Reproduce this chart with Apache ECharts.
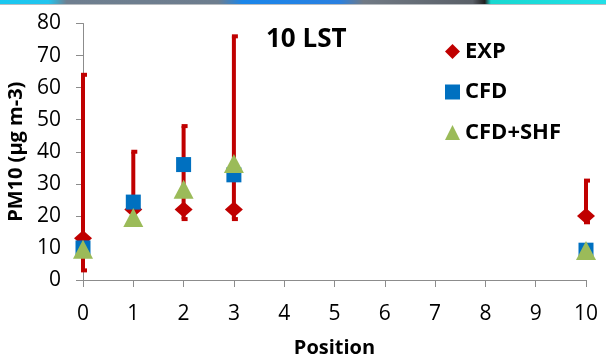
<!DOCTYPE html>
<html>
<head>
<meta charset="utf-8">
<script src="https://cdn.jsdelivr.net/npm/echarts@6/dist/echarts.min.js"></script>
<style>
  html, body { margin: 0; padding: 0; background: #fff; }
  #chart { width: 606px; height: 361px; }
</style>
</head>
<body>
<div id="chart"></div>
<script>
// Measurement positions along the street
const positions = [0, 1, 2, 3, 10];
// PM10 concentrations (µg m-3)
const expValues = [13, 22, 22, 22, 20];
const expLow = [3, 18, 19, 19, 18];
const expHigh = [64, 40, 48, 76, 31];
const cfdValues = [10, 24.3, 36, 32.8, 9.3];
const cfdShfValues = [9.6, 19.5, 28.3, 36.3, 9.2];
// Texts
const titleText = '10 LST';
const yName = 'PM10 (µg m-3)';
const xName = 'Position';

const FONT = '"Open Sans", "Liberation Sans", sans-serif';
const RED = '#C00000', BLUE = '#0070C0', GREEN = '#9BBB59';

const pair = (xs, ys) => xs.map((x, i) => [x, ys[i]]);
const errData = positions.map((x, i) => [x, expLow[i], expHigh[i]]);

const chart = echarts.init(document.getElementById('chart'), null, { renderer: 'canvas' });

chart.setOption({
  animation: false,
  backgroundColor: '#ffffff',
  title: {
    text: titleText,
    left: 261, top: 22,
    textStyle: { fontFamily: FONT, fontSize: 26, fontWeight: 'bold', color: '#000' }
  },
  legend: {
    orient: 'vertical',
    left: 440, top: 35,
    itemWidth: 15, itemHeight: 15, itemGap: 17.5,
    textStyle: { fontFamily: FONT, fontSize: 22, fontWeight: 'bold', color: '#000', lineHeight: 23, padding: [0, 0, 0, 0] },
    data: [
      { name: 'EXP', icon: 'diamond' },
      { name: 'CFD', icon: 'rect' },
      { name: 'CFD+SHF', icon: 'triangle' }
    ]
  },
  graphic: [{
    type: 'rect', silent: true, z: 100,
    shape: { x: 0, y: 0, width: 606, height: 4 },
    style: {
      fill: new echarts.graphic.LinearGradient(0, 0, 1, 0, [
        { offset: 0.0, color: '#19c8f0' },
        { offset: 0.08, color: '#22c4ee' },
        { offset: 0.11, color: '#6f7f90' },
        { offset: 0.36, color: '#6d7d8e' },
        { offset: 0.40, color: '#1a86ea' },
        { offset: 0.56, color: '#2a80e0' },
        { offset: 0.60, color: '#717a85' },
        { offset: 0.78, color: '#5a6068' },
        { offset: 0.80, color: '#202020' },
        { offset: 0.81, color: '#18d8d0' },
        { offset: 1.0, color: '#22e0e8' }
      ])
    }
  }, {
    type: 'rect', silent: true, z: 100,
    shape: { x: 0, y: 4, width: 606, height: 1 },
    style: { fill: '#b8bcc0' }
  }],
  grid: { left: 83, right: 20, top: 23.5, bottom: 81, containLabel: false, outerBoundsMode: 'none' },
  xAxis: {
    type: 'value', min: 0, max: 10, interval: 1,
    name: xName, nameLocation: 'middle', nameGap: 58,
    nameTextStyle: { fontFamily: FONT, fontSize: 20, fontWeight: 'bold', color: '#000' },
    axisLine: { show: true, onZero: false, lineStyle: { color: '#8c8c8c', width: 1 } },
    axisTick: { show: true, length: 7, lineStyle: { color: '#8c8c8c' } },
    axisLabel: { fontFamily: FONT, fontSize: 21, color: '#000', margin: 24 },
    splitLine: { show: false }
  },
  yAxis: {
    type: 'value', min: 0, max: 80, interval: 10,
    name: yName, nameLocation: 'middle', nameGap: 56,
    nameTextStyle: { fontFamily: FONT, fontSize: 20, fontWeight: 'bold', color: '#000' },
    axisLine: { show: true, lineStyle: { color: '#8c8c8c', width: 1 } },
    axisTick: { show: true, length: 7, lineStyle: { color: '#8c8c8c' } },
    axisLabel: { fontFamily: FONT, fontSize: 21, color: '#000', margin: 22 },
    splitLine: { show: false }
  },
  series: [
    {
      name: 'EXP range', type: 'custom', z: 2,
      data: errData,
      encode: { x: 0, y: [1, 2] },
      renderItem: function (params, api) {
        const x = api.value(0);
        const lo = api.coord([x, api.value(1)]);
        const hi = api.coord([x, api.value(2)]);
        const style = { stroke: RED, lineWidth: 4, fill: null };
        return {
          type: 'group',
          children: [
            { type: 'line', shape: { x1: lo[0], y1: lo[1], x2: hi[0], y2: hi[1] }, style: style },
            { type: 'line', shape: { x1: hi[0] - 2, y1: hi[1], x2: hi[0] + 4, y2: hi[1] }, style: style },
            { type: 'line', shape: { x1: lo[0] - 2, y1: lo[1], x2: lo[0] + 4, y2: lo[1] }, style: style }
          ]
        };
      }
    },
    {
      name: 'EXP', type: 'scatter', z: 3,
      symbol: 'diamond', symbolSize: [18, 16],
      itemStyle: { color: RED, opacity: 1 },
      data: pair(positions, expValues)
    },
    {
      name: 'CFD', type: 'scatter', z: 4,
      symbol: 'rect', symbolSize: [15, 15],
      itemStyle: { color: BLUE, opacity: 1 },
      data: pair(positions, cfdValues)
    },
    {
      name: 'CFD+SHF', type: 'scatter', z: 5,
      symbol: 'triangle', symbolSize: [20, 19],
      itemStyle: { color: GREEN, opacity: 1 },
      data: pair(positions, cfdShfValues)
    }
  ]
});
</script>
</body>
</html>
